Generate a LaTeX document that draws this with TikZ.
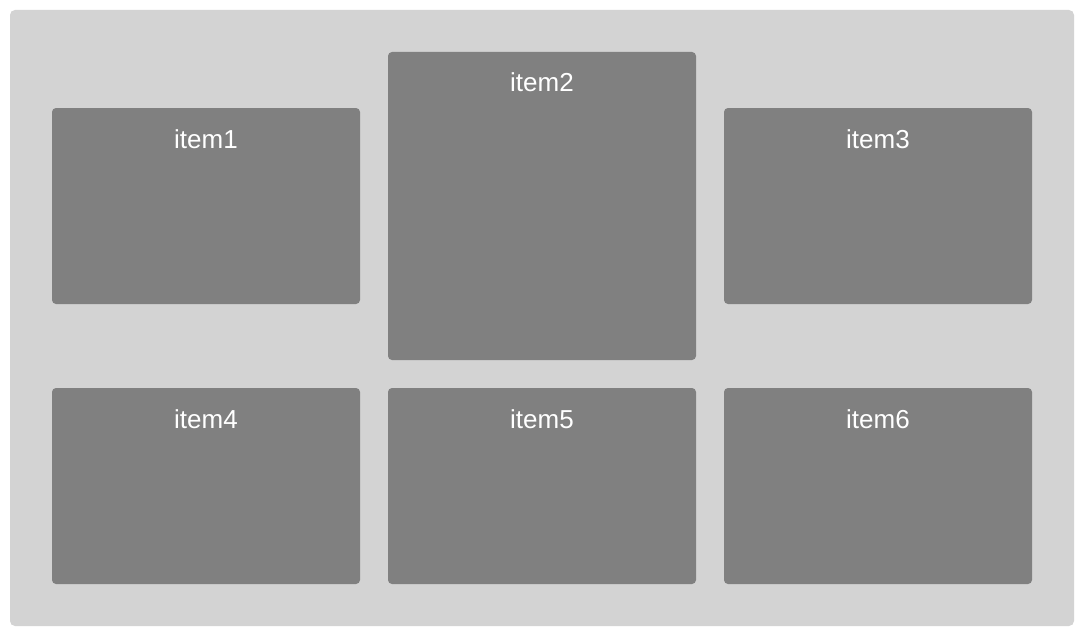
\documentclass[tikz,border=0pt]{standalone}
\usepackage{fontspec}
\setmainfont{Liberation Sans}
\definecolor{outerbg}{HTML}{D3D3D3}
\definecolor{itembg}{HTML}{808080}
\begin{document}
\begin{tikzpicture}[x=1pt,y=-1pt,
  itembox/.style={fill=itembg, draw=none, rounded corners=4pt},
  itemlabel/.style={text=white, font=\fontsize{26}{30}\selectfont, anchor=base, inner sep=0pt}]
\useasboundingbox (0,0) rectangle (1084,634);
\fill[white] (0,0) rectangle (1084,634);
\fill[outerbg, rounded corners=5pt] (10,10) rectangle (1074,626);
\fill[itembox] (52,108) rectangle (360,304);
\fill[itembox] (388,52) rectangle (696,360);
\fill[itembox] (724,108) rectangle (1032,304);
\fill[itembox] (52,388) rectangle (360,584);
\fill[itembox] (388,388) rectangle (696,584);
\fill[itembox] (724,388) rectangle (1032,584);
\node[itemlabel] (l1) at (206,148) {item1};
\node[itemlabel] (l2) at (542,92) {item2};
\node[itemlabel] (l3) at (878,148) {item3};
\node[itemlabel] (l4) at (206,428) {item4};
\node[itemlabel] (l5) at (542,428) {item5};
\node[itemlabel] (l6) at (878,428) {item6};
\end{tikzpicture}
\end{document}
